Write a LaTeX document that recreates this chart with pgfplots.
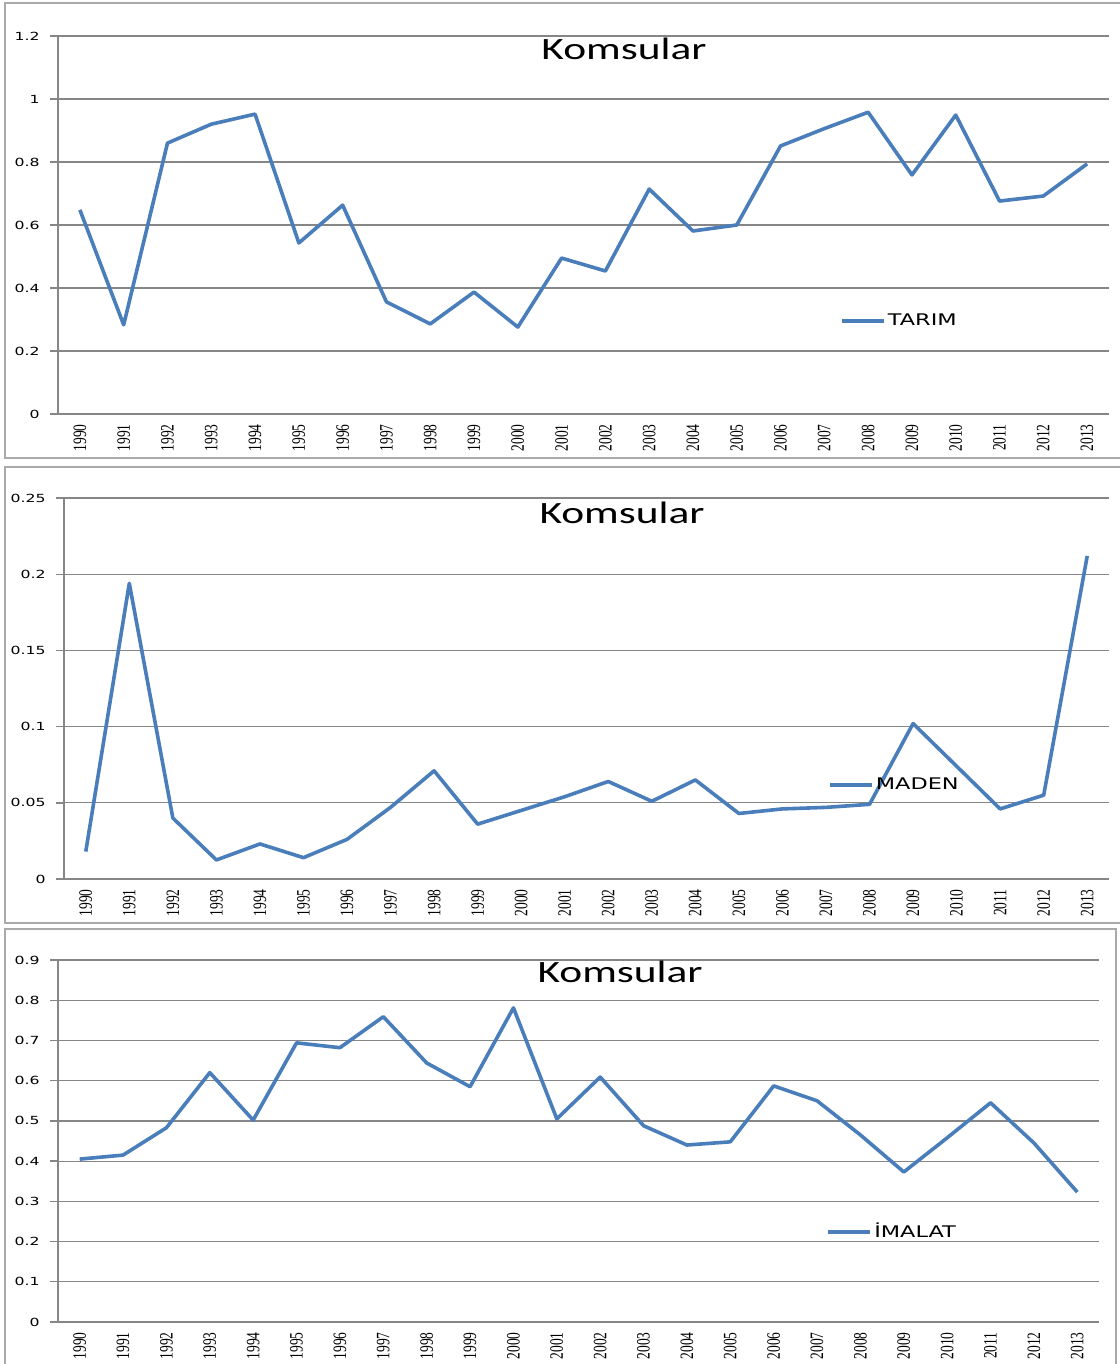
\documentclass[border=0pt]{standalone}
\usepackage{pgfplots}
\usepackage{pgfplotstable}
\pgfplotsset{compat=1.18}
\usepackage{fontspec}
\setmainfont{DejaVu Sans}
\newfontfamily\yearfont{Liberation Serif}
\newfontfamily\titlefont{Carlito}
\definecolor{excelblue}{RGB}{74,126,187}
\definecolor{gridgray}{RGB}{134,134,134}
\definecolor{framegray}{RGB}{170,170,170}

\newcommand{\yr}[1]{\scalebox{1.4}[1]{\rotatebox{90}{\yearfont\fontsize{6.75}{7}\selectfont #1}}}
\newcommand{\yl}[1]{\scalebox{1.4}[1]{\fontsize{5.6}{6}\selectfont #1}}
\newcommand{\komsular}{\scalebox{1.4}[1]{\titlefont\fontsize{15.5}{16}\selectfont Komsular}}

\pgfplotstableread{
year tarim maden imalat
1990 0.648 0.018 0.405
1991 0.283 0.194 0.415
1992 0.860 0.040 0.483
1993 0.920 0.0125 0.620
1994 0.952 0.023 0.502
1995 0.543 0.014 0.694
1996 0.663 0.026 0.682
1997 0.356 0.047 0.759
1998 0.286 0.071 0.644
1999 0.387 0.036 0.585
2000 0.276 0.045 0.781
2001 0.495 0.054 0.505
2002 0.454 0.064 0.609
2003 0.714 0.051 0.488
2004 0.581 0.065 0.440
2005 0.600 0.043 0.448
2006 0.851 0.046 0.587
2007 0.906 0.047 0.550
2008 0.958 0.049 0.465
2009 0.759 0.102 0.373
2010 0.949 0.074 0.458
2011 0.676 0.046 0.545
2012 0.692 0.055 0.445
2013 0.794 0.212 0.323
}\datatable

\pgfplotsset{
  ser/.style={excelblue, line width=1.8pt, mark=none, line join=round},
  panel/.style={
    scale only axis,
    anchor=south west,
    xmin=1989.5, xmax=2013.5,
    ymin=0,
    axis x line*=bottom, axis y line*=left,
    axis line style={gridgray, line width=0.7pt},
    xtick={1990,...,2013},
    xticklabels={\yr{1990},\yr{1991},\yr{1992},\yr{1993},\yr{1994},\yr{1995},
      \yr{1996},\yr{1997},\yr{1998},\yr{1999},\yr{2000},\yr{2001},\yr{2002},
      \yr{2003},\yr{2004},\yr{2005},\yr{2006},\yr{2007},\yr{2008},\yr{2009},
      \yr{2010},\yr{2011},\yr{2012},\yr{2013}},
    minor xtick={1989.5,1990.5,...,2013.5},
    xtick style={draw=none},
    minor x tick style={gridgray, line width=0.7pt},
    minor tick length=2pt,
    ytick style={gridgray, line width=0.7pt},
    major tick length=4pt,
    tick align=outside,
    ymajorgrids,
    grid style={gridgray, line width=0.6pt},
    x tick label style={anchor=north, inner sep=1pt},
    y tick label style={anchor=east, inner sep=0pt, xshift=-5pt},
    legend style={draw=none, fill=none, inner sep=0pt, anchor=west,
      font=\fontsize{8}{9}\selectfont, nodes={inner sep=1pt}},
    legend image code/.code={\draw[#1] (0pt,0pt) -- (21pt,0pt);},
    legend cell align=left,
  }
}

\begin{document}
\begin{tikzpicture}
\useasboundingbox (0,0) rectangle (559.5pt,-682pt);
\draw[framegray, line width=0.8pt] (2.5pt,-1.5pt) rectangle (565pt,-229pt);
\draw[framegray, line width=0.8pt] (2.5pt,-233.5pt) rectangle (565pt,-461.5pt);
\draw[framegray, line width=0.8pt] (2.5pt,-464.5pt) rectangle (558pt,-690pt);

% TARIM
\begin{axis}[panel, at={(29pt,-207pt)}, width=525.5pt, height=189pt,
  ymax=1.2, ytick={0,0.2,0.4,0.6,0.8,1,1.2},
  yticklabels={\yl{0},\yl{0.2},\yl{0.4},\yl{0.6},\yl{0.8},\yl{1},\yl{1.2}},
  legend style={at={(0.744,0.246)}}]
\addplot[ser] table[x=year, y=tarim] {\datatable};
\addlegendentry{\scalebox{1.4}[1]{TARIM}}
\node at (rel axis cs:0.5385,0.965) {\komsular};
\end{axis}

% MADEN
\begin{axis}[panel, at={(32pt,-439.5pt)}, width=522.5pt, height=190.5pt,
  ymax=0.25, ytick={0,0.05,0.1,0.15,0.2,0.25},
  yticklabels={\yl{0},\yl{0.05},\yl{0.1},\yl{0.15},\yl{0.2},\yl{0.25}},
  legend style={at={(0.731,0.247)}}]
\addplot[ser] table[x=year, y=maden] {\datatable};
\addlegendentry{\scalebox{1.4}[1]{MADEN}}
\node at (rel axis cs:0.534,0.96) {\komsular};
\end{axis}

% IMALAT
\begin{axis}[panel, at={(29pt,-661pt)}, width=520.5pt, height=181pt,
  ymax=0.9, ytick={0,0.1,0.2,0.3,0.4,0.5,0.6,0.7,0.8,0.9},
  yticklabels={\yl{0},\yl{0.1},\yl{0.2},\yl{0.3},\yl{0.4},\yl{0.5},\yl{0.6},\yl{0.7},\yl{0.8},\yl{0.9}},
  legend style={at={(0.738,0.249)}}]
\addplot[ser] table[x=year, y=imalat] {\datatable};
\addlegendentry{\scalebox{1.4}[1]{İMALAT}}
\node at (rel axis cs:0.54,0.967) {\komsular};
\end{axis}
\end{tikzpicture}
\end{document}
